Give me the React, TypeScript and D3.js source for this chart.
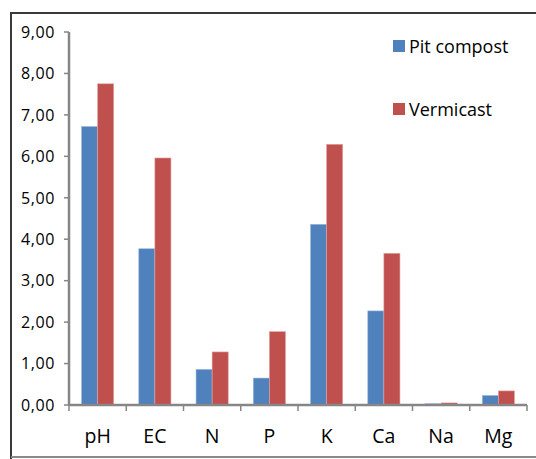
import React from "react";
import * as d3 from "d3";

const categories = ["pH", "EC", "N", "P", "K", "Ca", "Na", "Mg"];
const pitCompost = [6.72, 3.77, 0.86, 0.65, 4.36, 2.27, 0.03, 0.23];
const vermicast = [7.75, 5.96, 1.28, 1.77, 6.29, 3.66, 0.05, 0.34];
const seriesNames = ["Pit compost", "Vermicast"];
const seriesColors = ["#4F81BD", "#C0504D"];
const yTicks = [0, 1, 2, 3, 4, 5, 6, 7, 8, 9];

const width = 536;
const height = 459;
const margin = { top: 32, right: 9, bottom: 54, left: 69 };

const x = d3.scaleBand<string>()
  .domain(categories)
  .range([margin.left, width - margin.right])
  .paddingInner(0)
  .paddingOuter(0);

const inner = d3.scaleBand<number>()
  .domain([0, 1])
  .range([0, x.bandwidth()])
  .paddingOuter(0.78)
  .paddingInner(0);

const y = d3.scaleLinear()
  .domain([0, 9])
  .range([height - margin.bottom, margin.top]);

const font = "'Open Sans', 'Noto Sans', sans-serif";

export default function App() {
  const series = [pitCompost, vermicast];
  const y0 = y(0);
  return (
    <svg width={width} height={height} style={{ position: "absolute", left: 0, top: 0 }}>
      <rect x={0} y={0} width={width} height={height} fill="#fff" />
      {/* frame */}
      <path d={`M11,${height} V13 H${width}`} fill="none" stroke="#3a3a3a" strokeWidth={2} />
      <path d={`M11,457 H${width}`} fill="none" stroke="#8a8a8a" strokeWidth={2} />

      {/* bars */}
      {series.map((vals, s) => (
        <g key={s} fill={seriesColors[s]}>
          {categories.map((c, i) => (
            <rect
              key={c}
              x={(x(c) ?? 0) + (inner(s) ?? 0)}
              y={y(vals[i])}
              width={inner.bandwidth()}
              height={y0 - y(vals[i])}
              stroke={s === 0 ? "#9db8dc" : "#e0a3a1"}
              strokeWidth={0.6}
            />
          ))}
        </g>
      ))}

      {/* y axis */}
      <line x1={margin.left} x2={margin.left} y1={y(9)} y2={y0} stroke="#868686" strokeWidth={2.5} />
      {yTicks.map((t) => (
        <g key={t}>
          <line x1={margin.left - 5} x2={margin.left} y1={y(t)} y2={y(t)} stroke="#868686" strokeWidth={1.5} />
          <text
            x={55}
            y={y(t)}
            dy="0.36em"
            textAnchor="end"
            fontFamily={font}
            fontSize={16}
            letterSpacing={0.6}
            fill="#000"
          >
            {d3.format(".2f")(t).replace(".", ",")}
          </text>
        </g>
      ))}

      {/* x axis */}
      <line x1={margin.left} x2={width - margin.right} y1={y0} y2={y0} stroke="#868686" strokeWidth={2.5} />
      {categories.map((c) => (
        <line
          key={"t" + c}
          x1={x(c) ?? 0}
          x2={x(c) ?? 0}
          y1={y0}
          y2={y0 + 6}
          stroke="#868686"
          strokeWidth={1.5}
        />
      ))}
      <line x1={width - margin.right} x2={width - margin.right} y1={y0} y2={y0 + 6} stroke="#868686" strokeWidth={1.5} />
      {categories.map((c) => (
        <text
          key={"l" + c}
          x={(x(c) ?? 0) + x.bandwidth() / 2}
          y={443}
          textAnchor="middle"
          fontFamily={font}
          fontSize={19.5}
          fill="#000"
        >
          {c}
        </text>
      ))}

      {/* legend */}
      {seriesNames.map((n, s) => (
        <g key={n} transform={`translate(393,${40 + s * 63})`}>
          <rect width={12} height={12} fill={seriesColors[s]} />
          <text x={16} y={12.5} fontFamily={font} fontSize={18} fill="#000">
            {n}
          </text>
        </g>
      ))}
    </svg>
  );
}
